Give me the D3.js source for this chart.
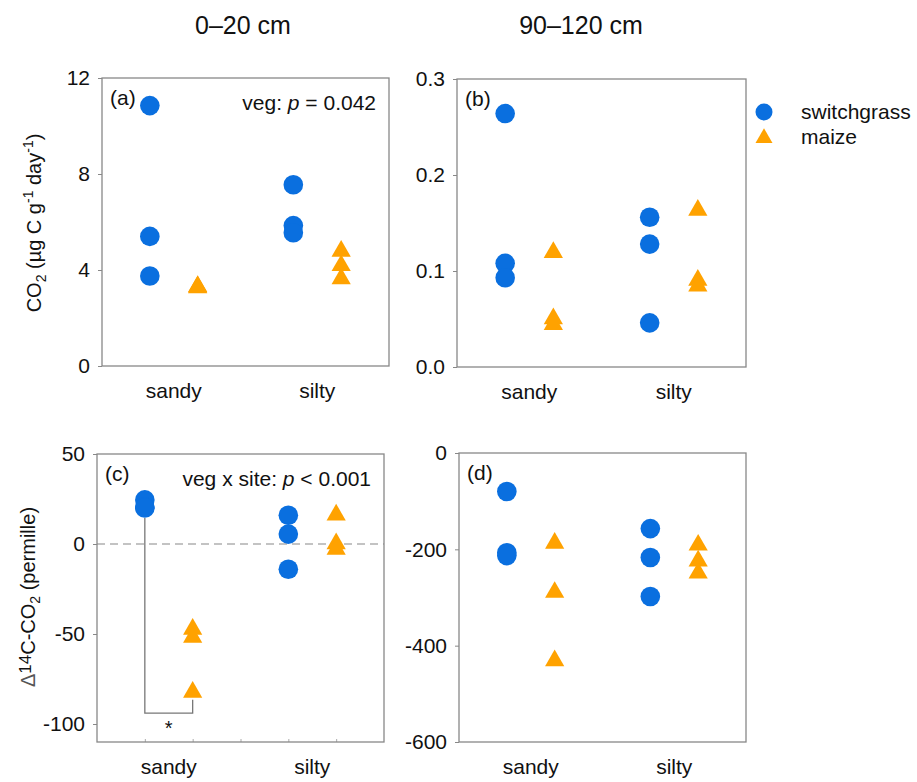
<!DOCTYPE html>
<html>
<head>
<meta charset="utf-8">
<script src="https://cdn.jsdelivr.net/npm/d3@7"></script>
<style>
  body { margin: 0; background: #fff; }
  svg text { font-family: "Liberation Sans", Arial, sans-serif; fill: #111; }
</style>
</head>
<body>
<div id="chart"></div>
<script>
// categories and x slots (switchgrass left of each site, maize right)
const sites = ['sandy', 'silty'];
const siteSlot = [1.5, 4.5];
const vegOffset = { switchgrass: -0.5, maize: 0.5 };

// (a) CO2, 0-20 cm   [sandy, silty]
const co2TopSwitch = [[10.85, 5.4, 3.75], [7.55, 5.85, 5.55]];
const co2TopMaize = [[3.38, 3.36, 3.33], [4.85, 4.25, 3.7]];
// (b) CO2, 90-120 cm
const co2DeepSwitch = [[0.264, 0.108, 0.093], [0.156, 0.128, 0.046]];
const co2DeepMaize = [[0.121, 0.052, 0.046], [0.165, 0.092, 0.086]];
// (c) D14C-CO2, 0-20 cm
const d14TopSwitch = [[24.5, 20.5, 20], [16, 5.5, -14]];
const d14TopMaize = [[-46.5, -51, -81.5], [17, 1, -2]];
// (d) D14C-CO2, 90-120 cm
const d14DeepSwitch = [[-80, -207, -213], [-157, -217, -298]];
const d14DeepMaize = [[-184, -286, -428], [-188, -221, -246]];

const ticksA = [0, 4, 8, 12];
const ticksB = [0, 0.1, 0.2, 0.3];
const ticksC = [-100, -50, 0, 50];
const ticksD = [-600, -400, -200, 0];

const blue = '#0a6fdf';
const orange = '#ffa200';
const frameColor = '#888';

const svg = d3.select('#chart').append('svg')
    .attr('width', 917)
    .attr('height', 782);

// column titles
svg.append('text').attr('x', 243).attr('y', 34).attr('text-anchor', 'middle')
    .attr('font-size', '25px').text('0–20 cm');
svg.append('text').attr('x', 581).attr('y', 34).attr('text-anchor', 'middle')
    .attr('font-size', '25px').text('90–120 cm');

function drawPanel(p) {
    const x = d3.scaleLinear().domain([0, 6]).range([p.x0, p.x1]);
    const y = d3.scaleLinear().domain(p.domain).range([p.y1, p.y0]);
    const g = svg.append('g');

    if (p.zeroLine) {
        g.append('line')
            .attr('x1', p.x0).attr('x2', p.x1)
            .attr('y1', y(0)).attr('y2', y(0))
            .attr('stroke', '#888').attr('stroke-width', 1.2)
            .attr('stroke-dasharray', '8,5');
    }

    const yAxis = g.append('g')
        .attr('transform', `translate(${p.x0},0)`)
        .call(d3.axisLeft(y).tickValues(p.ticks).tickSize(4).tickPadding(8)
            .tickFormat(p.fmt));
    yAxis.select('.domain').remove();
    yAxis.selectAll('line').attr('stroke', frameColor);
    yAxis.selectAll('text').attr('font-size', '21px')
        .attr('font-family', '"Liberation Sans", Arial, sans-serif').attr('fill', '#111');

    if (p.xTicks) {
        g.append('g')
            .attr('transform', `translate(0,${p.y1})`)
            .call(d3.axisTop(x).tickValues([1, 2, 3, 4, 5]).tickSize(3).tickFormat(''))
            .call(a => a.select('.domain').remove())
            .selectAll('line').attr('stroke', '#aaa');
    }

    g.append('rect')
        .attr('x', p.x0).attr('y', p.y0)
        .attr('width', p.x1 - p.x0).attr('height', p.y1 - p.y0)
        .attr('fill', 'none').attr('stroke', frameColor).attr('stroke-width', 1.3);

    sites.forEach((s, i) => {
        g.append('text')
            .attr('x', x(siteSlot[i])).attr('y', p.y1 + 32)
            .attr('text-anchor', 'middle').attr('font-size', '21px')
            .text(s);
    });

    g.append('text')
        .attr('x', p.x0 + 8).attr('y', p.y0 + 27)
        .attr('font-size', '21px').text(p.tag);

    if (p.stat) {
        const t = g.append('text')
            .attr('x', p.x1 - 13).attr('y', p.y0 + 32)
            .attr('text-anchor', 'end').attr('font-size', '21px');
        t.append('tspan').text(p.stat[0]);
        t.append('tspan').attr('font-style', 'italic').text('p');
        t.append('tspan').text(p.stat[1]);
    }

    if (p.bracket) p.bracket(g, x, y);

    const pts = [];
    sites.forEach((s, i) => {
        p.sw[i].forEach(v => pts.push({ veg: 'switchgrass', slot: siteSlot[i], v }));
        p.mz[i].forEach(v => pts.push({ veg: 'maize', slot: siteSlot[i], v }));
    });

    g.selectAll('circle.pt')
        .data(pts.filter(d => d.veg === 'switchgrass'))
        .enter().append('circle')
        .attr('class', 'pt')
        .attr('cx', d => x(d.slot + vegOffset[d.veg]))
        .attr('cy', d => y(d.v))
        .attr('r', 9.8)
        .attr('fill', blue);

    g.selectAll('path.pt')
        .data(pts.filter(d => d.veg === 'maize'))
        .enter().append('path')
        .attr('class', 'pt')
        .attr('d', d3.symbol(d3.symbolTriangle, 160))
        .attr('transform', d => `translate(${x(d.slot + vegOffset[d.veg])},${y(d.v) + 1.5})`)
        .attr('fill', orange);
}

drawPanel({
    x0: 102, x1: 389, y0: 78, y1: 366,
    domain: [0, 12], ticks: ticksA, fmt: d => String(d),
    tag: '(a)', stat: ['veg: ', ' = 0.042'],
    sw: co2TopSwitch, mz: co2TopMaize
});

drawPanel({
    x0: 457, x1: 746, y0: 79, y1: 367,
    domain: [0, 0.3], ticks: ticksB, fmt: d3.format('.1f'),
    tag: '(b)',
    sw: co2DeepSwitch, mz: co2DeepMaize
});

drawPanel({
    x0: 97, x1: 384, y0: 454, y1: 742,
    domain: [-110, 50], ticks: ticksC, fmt: d => String(d),
    tag: '(c)', stat: ['veg x site: ', ' < 0.001'],
    zeroLine: true, xTicks: true,
    sw: d14TopSwitch, mz: d14TopMaize,
    bracket: (g, x, y) => {
        const xl = x(1), xr = x(2), yb = y(-94);
        const line = d3.line();
        g.append('path')
            .attr('d', line([[xl, y(20) + 10], [xl, yb], [xr, yb], [xr, y(-81.5) + 9]]))
            .attr('fill', 'none').attr('stroke', '#777').attr('stroke-width', 1.3);
        g.append('text')
            .attr('x', (xl + xr) / 2).attr('y', yb + 22)
            .attr('text-anchor', 'middle').attr('font-size', '20px').text('*');
    }
});

drawPanel({
    x0: 459, x1: 746, y0: 453, y1: 742,
    domain: [-600, 0], ticks: ticksD, fmt: d => String(d),
    tag: '(d)',
    sw: d14DeepSwitch, mz: d14DeepMaize
});

// y axis titles
const t1 = svg.append('text')
    .attr('transform', 'translate(41,223) rotate(-90)')
    .attr('text-anchor', 'middle').attr('font-size', '20px');
t1.append('tspan').text('CO');
t1.append('tspan').attr('font-size', '14px').attr('dy', 5).text('2');
t1.append('tspan').attr('dy', -5).text(' (µg C g');
t1.append('tspan').attr('font-size', '14px').attr('dy', -8).text('-1');
t1.append('tspan').attr('dy', 8).text(' day');
t1.append('tspan').attr('font-size', '14px').attr('dy', -8).text('-1');
t1.append('tspan').attr('dy', 8).text(')');

const t2 = svg.append('text')
    .attr('transform', 'translate(35,597) rotate(-90)')
    .attr('text-anchor', 'middle').attr('font-size', '20px');
t2.append('tspan').attr('fill', '#555').text('Δ');
t2.append('tspan').attr('font-size', '17px').attr('dy', -4).text('14');
t2.append('tspan').attr('dy', 4).text('C-CO');
t2.append('tspan').attr('font-size', '14px').attr('dy', 5).text('2');
t2.append('tspan').attr('dy', -5).text(' (permille)');

// legend
const legendItems = [
    { label: 'switchgrass', color: blue, shape: 'circle' },
    { label: 'maize', color: orange, shape: 'triangle' }
];
const legend = svg.append('g');
legendItems.forEach((d, i) => {
    const cy = 112 + i * 25;
    if (d.shape === 'circle') {
        legend.append('circle').attr('cx', 764).attr('cy', cy).attr('r', 8.5).attr('fill', d.color);
    } else {
        legend.append('path')
            .attr('d', d3.symbol(d3.symbolTriangle, 125))
            .attr('transform', `translate(764,${cy + 1})`)
            .attr('fill', d.color);
    }
    legend.append('text').attr('x', 801).attr('y', cy + 7)
        .attr('font-size', '21px').text(d.label);
});
</script>
</body>
</html>
